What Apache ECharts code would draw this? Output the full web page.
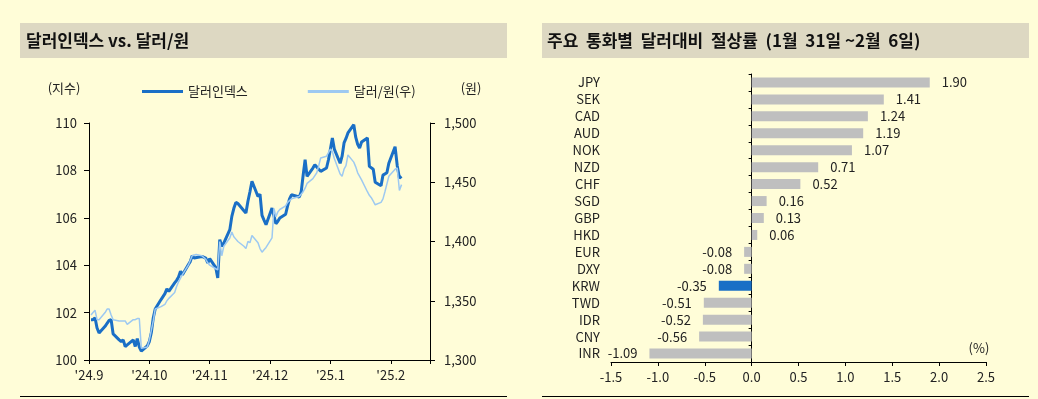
<!DOCTYPE html>
<html>
<head>
<meta charset="utf-8">
<script src="https://cdn.jsdelivr.net/npm/echarts@6/dist/echarts.min.js"></script>
<style>
html, body { margin: 0; padding: 0; background: #fffdd8; }
#chart { width: 1038px; height: 399px; }
</style>
</head>
<body>
<div id="chart"></div>
<script>
var FONT = '"Noto Sans CJK KR", "Noto Sans", sans-serif';

// 왼쪽 차트: 월별 눈금 (월 폭은 동일)
var monthLabels = ["'24.9", "'24.10", "'24.11", "'24.12", "'25.1", "'25.2"];
var monthLen = [30, 31, 30, 31, 31, 28];
// 월별 영업일
var tradeDays = [
    [2, 3, 4, 5, 6, 9, 10, 11, 12, 13, 16, 17, 18, 19, 20, 23, 24, 25, 26, 27, 30],
    [1, 2, 3, 4, 7, 8, 9, 10, 11, 14, 15, 16, 17, 18, 21, 22, 23, 24, 25, 28, 29, 30, 31],
    [1, 4, 5, 6, 7, 8, 11, 12, 13, 14, 15, 18, 19, 20, 21, 22, 25, 26, 27, 28, 29],
    [2, 3, 4, 5, 6, 9, 10, 11, 12, 13, 16, 17, 18, 19, 20, 23, 24, 25, 26, 27, 30, 31],
    [1, 2, 3, 6, 7, 8, 9, 10, 13, 14, 15, 16, 17, 20, 21, 22, 23, 24, 27, 28, 29, 30, 31],
    [3, 4, 5, 6]
];

// 달러인덱스 (지수, 좌)
var dxy = [
    101.70, 101.70, 101.78, 101.35, 101.14, 101.42, 101.55, 101.67, 101.70, 101.10, 100.85, 100.78, 100.85, 100.57, 100.64, 100.85, 100.57, 100.90, 100.55, 100.38, 100.60,
    100.78, 101.15, 101.77, 102.15, 102.55, 102.57, 102.80, 103.00, 102.90, 103.25, 103.36, 103.50, 103.75, 103.60, 104.02, 104.15, 104.40, 104.30, 104.35, 104.37, 104.35, 104.30, 104.09,
    104.28, 103.90, 103.46, 105.08, 104.80, 104.93, 105.50, 106.06, 106.40, 106.65, 106.60, 106.30, 106.20, 106.70, 107.10, 107.54, 106.90, 107.00, 106.10, 105.90, 105.71,
    106.41, 106.45, 105.75, 105.85, 105.99, 106.15, 106.50, 106.80, 106.97, 106.95, 106.88, 107.10, 107.80, 108.45, 107.75, 108.10, 108.24, 108.24, 108.05, 107.96, 108.10, 108.45,
    108.90, 109.37, 108.90, 108.30, 108.60, 109.16, 109.35, 109.58, 109.93, 109.40, 109.10, 108.94, 109.20, 109.37, 108.17, 108.10, 108.05, 107.50, 107.35, 107.80, 107.82, 107.90, 108.30,
    109.00, 108.20, 107.68, 107.75
];

// 달러/원 (원, 우)
var krw = [
    1338, 1340, 1342, 1334, 1334, 1340, 1343, 1343, 1338, 1334, 1333, 1333, 1333, 1333, 1330, 1334, 1334, 1335, 1335, 1310, 1311,
    1317, 1325, 1333, 1343, 1345, 1346, 1347, 1350, 1352, 1357, 1362, 1366, 1369, 1372, 1380, 1384, 1388, 1388, 1389, 1388, 1387, 1385, 1382,
    1380, 1377, 1376, 1400, 1388, 1396, 1403, 1408, 1404, 1402, 1400, 1396, 1394, 1400, 1399, 1405, 1399, 1394, 1391, 1393, 1395,
    1403, 1428, 1421, 1425, 1427, 1430, 1433, 1434, 1436, 1437, 1438, 1439.5, 1442, 1445, 1449, 1453, 1453.6, 1458, 1464, 1470.5, 1472, 1473,
    1478, 1476, 1470, 1457, 1455, 1461, 1464, 1473, 1467, 1463, 1458, 1456.5, 1452, 1442, 1439, 1437, 1434, 1431, 1433, 1436, 1442, 1442, 1455,
    1461, 1462, 1443, 1448
];

// 오른쪽 차트: 주요 통화별 달러대비 절상률 (%)
var currencies = ['JPY', 'SEK', 'CAD', 'AUD', 'NOK', 'NZD', 'CHF', 'SGD', 'GBP', 'HKD', 'EUR', 'DXY', 'KRW', 'TWD', 'IDR', 'CNY', 'INR'];
var changes = [1.90, 1.41, 1.24, 1.19, 1.07, 0.71, 0.52, 0.16, 0.13, 0.06, -0.08, -0.08, -0.35, -0.51, -0.52, -0.56, -1.09];

// 날짜 -> 월 단위 위치
var xs = [];
tradeDays.forEach(function (days, m) {
    days.forEach(function (d) { xs.push(m + (d - 1) / monthLen[m]); });
});
var dxyData = xs.map(function (x, i) { return [x, dxy[i]]; });
var krwData = xs.map(function (x, i) { return [x, krw[i]]; });

var barData = changes.map(function (v, i) {
    return {
        value: v,
        itemStyle: { color: currencies[i] === 'KRW' ? '#1a6fc6' : '#bfbfbf' },
        label: { position: v >= 0 ? 'right' : 'left' }
    };
});

var axisLine = { show: true, onZero: false, lineStyle: { color: '#000', width: 1 } };
var tick = { show: true, inside: false, length: 4, lineStyle: { color: '#000' } };
var label = { color: '#222', fontSize: 13, fontFamily: FONT };

var chart = echarts.init(document.getElementById('chart'));
var option = {
    backgroundColor: '#fffdd8',
    animation: false,
    textStyle: { fontFamily: FONT },
    grid: [
        { left: 89, right: 608, top: 123, bottom: 39 },
        { left: 611, right: 52, top: 74, bottom: 37 }
    ],
    legend: {
        left: 137,
        top: 80,
        itemWidth: 41,
        itemHeight: 3,
        itemGap: 60,
        icon: 'rect',
        textStyle: { color: '#222', fontSize: 13, fontFamily: FONT },
        data: ['달러인덱스', '달러/원(우)']
    },
    xAxis: [
        {
            gridIndex: 0, type: 'value', min: 0, max: 5.65, interval: 1,
            axisLine: axisLine, axisTick: tick, splitLine: { show: false },
            axisLabel: Object.assign({}, label, {
                margin: 9,
                formatter: function (v) { return Number.isInteger(v) ? monthLabels[v] : ''; }
            })
        },
        {
            gridIndex: 1, type: 'value', min: -1.5, max: 2.5, interval: 0.5,
            axisLine: axisLine, axisTick: tick, splitLine: { show: false },
            axisLabel: Object.assign({}, label, {
                margin: 9,
                formatter: function (v) { return v.toFixed(1); }
            })
        }
    ],
    yAxis: [
        {
            gridIndex: 0, type: 'value', position: 'left', min: 100, max: 110, interval: 2,
            axisLine: axisLine, axisTick: Object.assign({}, tick, { length: 5 }), splitLine: { show: false },
            axisLabel: Object.assign({}, label, { margin: 12 })
        },
        {
            gridIndex: 0, type: 'value', position: 'right', min: 1300, max: 1500, interval: 50,
            axisLine: axisLine, axisTick: Object.assign({}, tick, { length: 5 }), splitLine: { show: false },
            axisLabel: Object.assign({}, label, {
                margin: 14,
                formatter: function (v) { return v.toLocaleString('en-US'); }
            })
        },
        {
            gridIndex: 1, type: 'category', data: currencies, inverse: true,
            axisLine: { show: true, onZero: true, lineStyle: { color: '#000' } },
            axisTick: { show: true, length: 3, lineStyle: { color: '#000' } },
            axisLabel: { show: false }
        },
        {
            gridIndex: 1, type: 'category', data: currencies, inverse: true, position: 'left',
            axisLine: { show: false, onZero: false }, axisTick: { show: false },
            axisLabel: Object.assign({}, label, { margin: 11 })
        }
    ],
    series: [
        {
            name: '달러인덱스', type: 'line', xAxisIndex: 0, yAxisIndex: 0,
            data: dxyData, symbol: 'none', color: '#1a6fc6',
            lineStyle: { width: 3, color: '#1a6fc6' }
        },
        {
            name: '달러/원(우)', type: 'line', xAxisIndex: 0, yAxisIndex: 1,
            data: krwData, symbol: 'none', color: '#9dc9f1',
            lineStyle: { width: 1.5, color: '#9dc9f1' }
        },
        {
            name: '절상률', type: 'bar', xAxisIndex: 1, yAxisIndex: 2,
            data: barData, barWidth: 10,
            label: {
                show: true, distance: 12, color: '#222', fontSize: 13, fontFamily: FONT,
                formatter: function (p) { return p.value.toFixed(2); }
            }
        }
    ],
    graphic: [
        { type: 'rect', shape: { x: 20, y: 23, width: 487, height: 35 }, style: { fill: '#ddd8c2' }, silent: true },
        { type: 'rect', shape: { x: 542, y: 23, width: 487, height: 35 }, style: { fill: '#ddd8c2' }, silent: true },
        { type: 'text', x: 26, y: 41, style: { text: '달러인덱스 vs. 달러/원', font: 'bold 17px ' + FONT, fill: '#111', verticalAlign: 'middle' } },
        { type: 'text', x: 547, y: 41, style: { text: '주요  통화별  달러대비  절상률  (1월  31일 ~2월  6일)', font: 'bold 17px ' + FONT, fill: '#111', verticalAlign: 'middle' } },
        { type: 'line', shape: { x1: 20, y1: 396.5, x2: 507, y2: 396.5 }, style: { stroke: '#000', lineWidth: 1 } },
        { type: 'line', shape: { x1: 542, y1: 396.5, x2: 1029, y2: 396.5 }, style: { stroke: '#000', lineWidth: 1 } },
        { type: 'text', x: 64, y: 88, style: { text: '(지수)', font: '13px ' + FONT, fill: '#222', align: 'center', verticalAlign: 'middle' } },
        { type: 'text', x: 471, y: 88, style: { text: '(원)', font: '13px ' + FONT, fill: '#222', align: 'center', verticalAlign: 'middle' } },
        { type: 'text', x: 979, y: 348, style: { text: '(%)', font: '13px ' + FONT, fill: '#222', align: 'center', verticalAlign: 'middle' } }
    ]
};
chart.setOption(option);
</script>
</body>
</html>
